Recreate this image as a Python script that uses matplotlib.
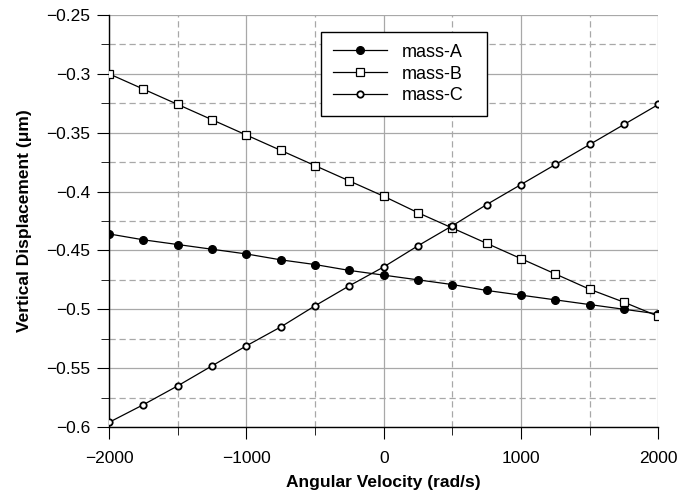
import numpy as np
import matplotlib
matplotlib.use("Agg")
import matplotlib.pyplot as plt
from matplotlib.ticker import MultipleLocator

plt.rcParams['font.family'] = ['Liberation Sans', 'DejaVu Sans']

# angular velocity (rad/s)
omega = [-2000, -1750, -1500, -1250, -1000, -750, -500, -250, 0,
         250, 500, 750, 1000, 1250, 1500, 1750, 2000]

# vertical displacement (um)
mass_a = [-0.436, -0.441, -0.445, -0.449, -0.453, -0.458, -0.462, -0.467, -0.471,
          -0.475, -0.479, -0.484, -0.488, -0.492, -0.496, -0.500, -0.504]
mass_b = [-0.300, -0.313, -0.326, -0.339, -0.352, -0.365, -0.378, -0.391, -0.404,
          -0.418, -0.431, -0.444, -0.457, -0.470, -0.483, -0.494, -0.506]
mass_c = [-0.596, -0.581, -0.565, -0.548, -0.531, -0.515, -0.497, -0.480, -0.464,
          -0.446, -0.429, -0.411, -0.394, -0.377, -0.360, -0.343, -0.326]

fig = plt.figure(figsize=(6.78, 5.0), dpi=100)
ax = fig.add_axes([0.161, 0.146, 0.81, 0.824])

ax.plot(omega, mass_a, '-', color='black', lw=0.9, marker='o', ms=5.5,
        mfc='black', mec='black', label='mass-A', zorder=3)
ax.plot(omega, mass_b, '-', color='black', lw=0.9, marker='s', ms=6.3,
        mfc='white', mec='black', mew=0.9, label='mass-B', zorder=3)
ax.plot(omega, mass_c, '-', color='black', lw=0.9, marker='o', ms=4.6,
        mfc='white', mec='black', mew=1.3, label='mass-C', zorder=3)

ax.set_xlim(-2000, 2000)
ax.set_ylim(-0.6, -0.25)
ax.xaxis.set_major_locator(MultipleLocator(1000))
ax.xaxis.set_minor_locator(MultipleLocator(500))
ax.yaxis.set_major_locator(MultipleLocator(0.05))
ax.yaxis.set_minor_locator(MultipleLocator(0.025))
ax.set_yticks(np.arange(-0.6, -0.249, 0.05))
ax.set_yticklabels(['\u22120.6', '\u22120.55', '\u22120.5', '\u22120.45',
                    '\u22120.4', '\u22120.35', '\u22120.3', '\u22120.25'])

ax.grid(which='major', color='#a8a8a8', lw=0.9, ls='-')
ax.grid(which='minor', color='#a8a8a8', lw=0.9, ls=(0, (5, 3)))
ax.set_axisbelow(True)

for s in ['top', 'right']:
    ax.spines[s].set_visible(False)
ax.spines['left'].set_linewidth(1.0)
ax.spines['bottom'].set_linewidth(1.0)
ax.tick_params(which='both', direction='out', labelsize=12.5)
ax.tick_params(axis='y', pad=5)
ax.tick_params(axis='x', pad=8.5)
ax.tick_params(which='major', length=8.5)
ax.tick_params(which='minor', length=5.5)

ax.set_xlabel('Angular Velocity (rad/s)', fontsize=12.5, fontweight='bold',
              labelpad=7)
ax.set_ylabel('Vertical Displacement (\u03bcm)', fontsize=12.5, fontweight='bold',
              labelpad=10)

leg = ax.legend(loc='upper left', bbox_to_anchor=(0.386, 0.0, 0.302, 0.959),
                mode='expand', fontsize=13,
                fancybox=False, framealpha=1, edgecolor='black',
                handlelength=3.0, handletextpad=0.8, borderpad=0.65,
                labelspacing=0.27, borderaxespad=0)
leg.get_frame().set_linewidth(1.0)

fig.savefig('out.png', dpi=100)
